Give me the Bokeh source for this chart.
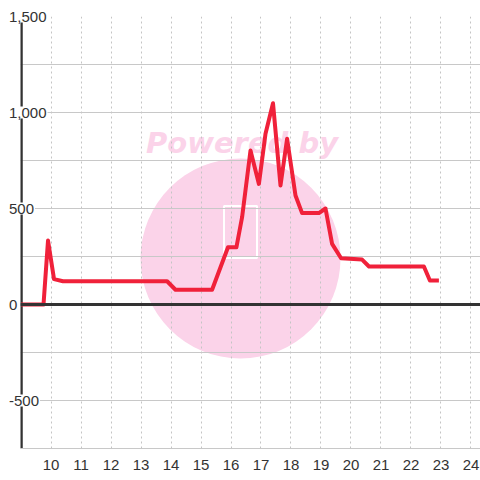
from bokeh.plotting import figure
from bokeh.models import FixedTicker, Span, ColumnDataSource
from bokeh.core.properties import value
from bokeh.embed import file_html
from bokeh.resources import INLINE

# ---- data ----
hours = [9.0, 9.75, 9.9, 10.1, 10.4, 13.87, 14.15, 15.37, 15.9, 16.18, 16.37,
         16.65, 16.93, 17.15, 17.4, 17.65, 17.87, 18.15, 18.37, 18.93, 19.15,
         19.37, 19.67, 20.37, 20.6, 22.43, 22.63, 22.93]
values = [0, 0, 333, 132, 121, 121, 77, 77, 298, 298, 455,
          802, 628, 889, 1048, 620, 863, 568, 476, 476, 500,
          316, 241, 234, 198, 198, 125, 125]
x_ticks = list(range(10, 25))
y_ticks = [-500, 0, 500, 1000, 1500]
y_tick_labels = ["-500", "0", "500", "1,000", "1,500"]
y_grid = [-750, -500, -250, 0, 250, 500, 750, 1000, 1250, 1500]
watermark_text = ["Powered by"]

FONT = "Liberation Sans"
TXT = "#333333"

p = figure(width=480, height=480, output_backend="svg", toolbar_location=None,
           x_range=(8.983, 24.317), y_range=(-750, 1500),
           min_border_left=20, min_border_top=16, min_border_right=0,
           min_border_bottom=32, y_axis_location=None)
p.outline_line_color = None
p.background_fill_color = "white"
p.border_fill_color = "white"

# watermark (below grid)
p.circle(x=[16.317], y=[239.6], radius=100, radius_units="screen",
         fill_color="#fbd3e9", line_color=None, level="image")
p.text(x=[16.367], y=[843.75], text=watermark_text,
       text_font=value("DejaVu Sans"), text_font_style="bold italic",
       text_font_size="29px", text_color="#fbd3e9",
       text_align="center", text_baseline="alphabetic", level="image")
p.rect(x=[16.317], y=[377.6], width=33, height=52, width_units="screen",
       height_units="screen", fill_color=None, line_color="white",
       line_width=2, level="image")

# grids
p.xgrid.ticker = FixedTicker(ticks=x_ticks)
p.xgrid.grid_line_color = "#c4c4c4"
p.xgrid.grid_line_dash = "2 3"
p.xgrid.grid_line_width = 1
p.ygrid.ticker = FixedTicker(ticks=y_grid)
p.ygrid.grid_line_color = "#c8c8c8"
p.ygrid.grid_line_width = 1

# x axis
p.xaxis.ticker = FixedTicker(ticks=x_ticks)
p.xaxis.axis_line_color = "#c8c8c8"
p.xaxis.major_tick_line_color = None
p.xaxis.minor_tick_line_color = None
p.xaxis.major_label_text_font = FONT
p.xaxis.major_label_text_font_size = "15px"
p.xaxis.major_label_text_color = TXT
p.xaxis.major_label_standoff = 5

# zero line and y axis line
p.add_layout(Span(location=0, dimension="width", line_color="#333333",
                  line_width=3))
p.segment(x0=[9.0], y0=[-750], x1=[9.0], y1=[1500], line_color="#333333",
          line_width=3.5)

# series
p.line(hours, values, line_color="#f0213a", line_width=4, line_join="round")

# y tick labels with white background
src = ColumnDataSource(dict(x=[9.0] * len(y_ticks), y=y_ticks, t=y_tick_labels))
p.text(x="x", y="y", text="t", source=src, x_offset=-13,
       text_font=value(FONT), text_font_size="15px", text_color=TXT,
       text_align="left", text_baseline="middle",
       background_fill_color="white", padding=1, level="annotation")

open("out.html", "w").write(file_html(p, INLINE))
